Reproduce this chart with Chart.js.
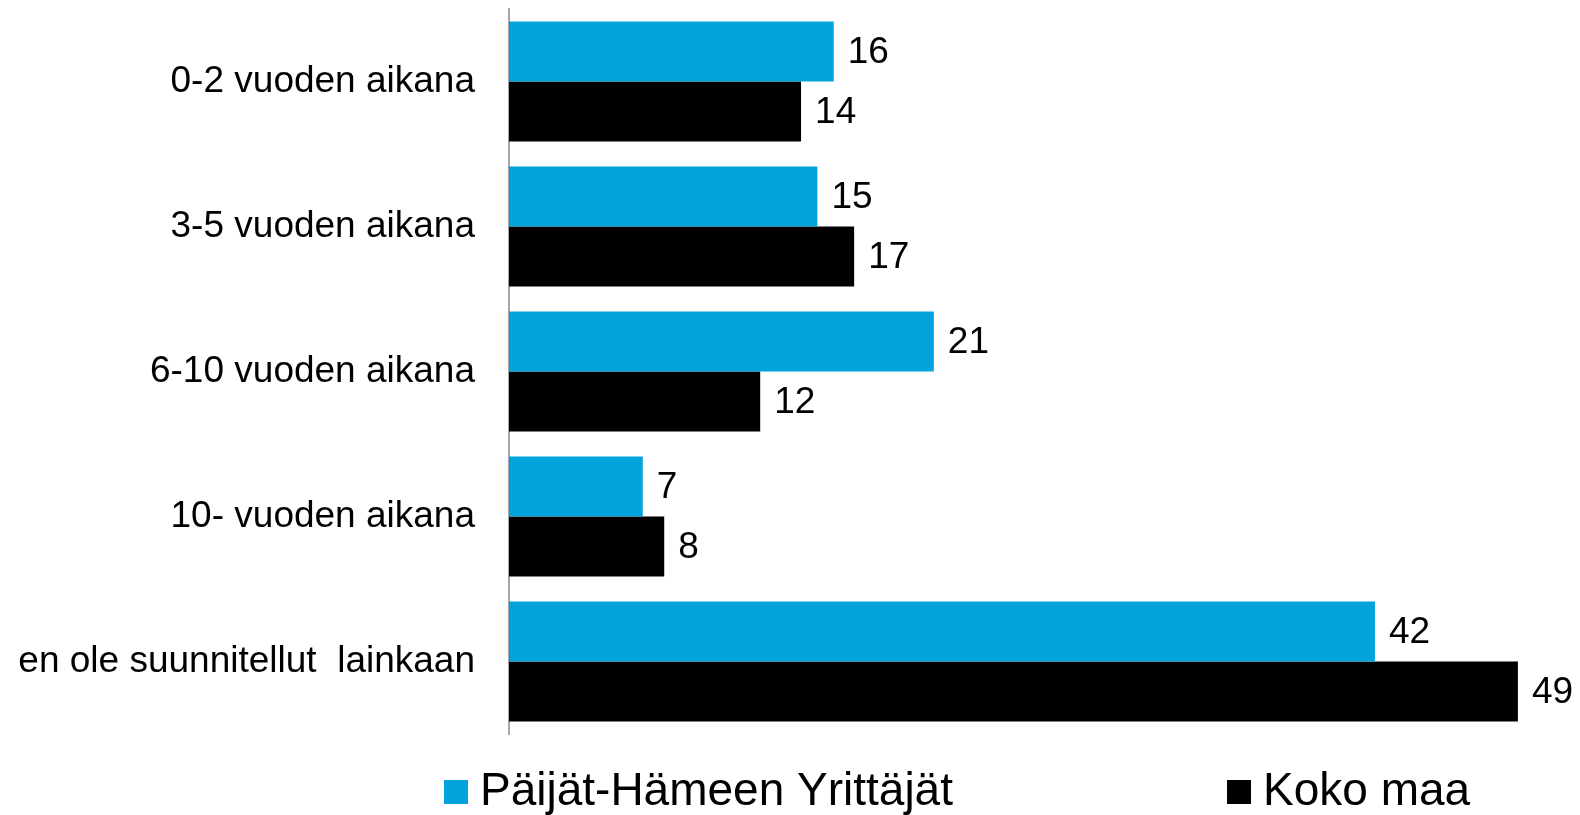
<!DOCTYPE html>
<html>
<head>
<meta charset="utf-8">
<script src="https://cdn.jsdelivr.net/npm/chart.js@4/dist/chart.umd.min.js"></script>
<style>
  html, body { margin: 0; padding: 0; background: #ffffff; }
  #wrap { width: 1580px; height: 815px; position: relative; }
</style>
</head>
<body>
<div id="wrap"><canvas id="c" width="1580" height="815"></canvas></div>
<script>
const categories = [
  "0-2 vuoden aikana",
  "3-5 vuoden aikana",
  "6-10 vuoden aikana",
  "10- vuoden aikana",
  "en ole suunnitellut  lainkaan"
];
const seriesNames = ["Päijät-Hämeen Yrittäjät", "Koko maa"];
const paijatHame = [15.9, 15.1, 20.8, 6.55, 42.4];
const kokoMaa = [14.3, 16.9, 12.3, 7.6, 49.4];
const seriesColors = ["#02A3DA", "#000000"];

const FONT = "'Liberation Sans', Arial, sans-serif";

const valueLabels = {
  id: 'valueLabels',
  afterDatasetsDraw(chart) {
    const ctx = chart.ctx;
    ctx.save();
    ctx.font = "37px " + FONT;
    ctx.fillStyle = "#000000";
    ctx.textAlign = "left";
    ctx.textBaseline = "middle";
    chart.data.datasets.forEach((ds, i) => {
      const meta = chart.getDatasetMeta(i);
      meta.data.forEach((bar, j) => {
        ctx.fillText(String(Math.round(ds.data[j])), bar.x + 14, bar.y + 1);
      });
    });
    ctx.restore();
  }
};

const customLegend = {
  id: 'customLegend',
  afterDraw(chart, args, opts) {
    const ctx = chart.ctx;
    ctx.save();
    ctx.font = "46px " + FONT;
    ctx.textAlign = "left";
    ctx.textBaseline = "alphabetic";
    chart.data.datasets.forEach((ds, i) => {
      const x = opts.xs[i];
      ctx.fillStyle = ds.backgroundColor;
      ctx.fillRect(x, opts.boxTop, opts.box, opts.box);
      ctx.fillStyle = "#000000";
      ctx.fillText(ds.label, x + opts.box + 12, opts.baseline);
    });
    ctx.restore();
  }
};

new Chart(document.getElementById('c'), {
  type: 'bar',
  data: {
    labels: categories,
    datasets: [
      { label: seriesNames[0], data: paijatHame, backgroundColor: seriesColors[0], borderWidth: 0 },
      { label: seriesNames[1], data: kokoMaa, backgroundColor: seriesColors[1], borderWidth: 0 }
    ]
  },
  options: {
    indexAxis: 'y',
    responsive: false,
    animation: false,
    devicePixelRatio: 1,
    layout: { padding: { top: 9, bottom: 81, right: 9, left: 0 } },
    datasets: { bar: { categoryPercentage: 0.828, barPercentage: 1.0 } },
    scales: {
      x: {
        display: false,
        min: 0,
        max: 52
      },
      y: {
        grid: { display: false, drawTicks: false },
        border: { display: true, color: '#a6a6a6', width: 2 },
        ticks: {
          color: '#000000',
          padding: 34,
          font: { family: FONT, size: 37 }
        },
        afterFit(scale) {
          scale.width = 509;
          scale.paddingTop = 0;
          scale.paddingBottom = 0;
        }
      }
    },
    plugins: {
      legend: { display: false },
      tooltip: { enabled: false },
      customLegend: { xs: [444, 1227], box: 24, boxTop: 780, baseline: 805 }
    }
  },
  plugins: [valueLabels, customLegend]
});
</script>
</body>
</html>
